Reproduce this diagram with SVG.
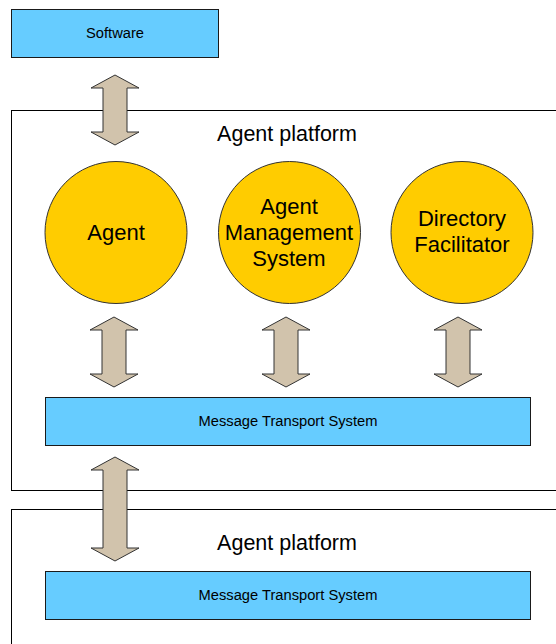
<svg xmlns="http://www.w3.org/2000/svg" width="556" height="644" viewBox="0 0 556 644">
  <style>
    .platform { fill: #ffffff; stroke: #000000; stroke-width: 1; }
    .box { fill: #66CCFF; stroke: #1a1a1a; stroke-width: 1; }
    .agent { fill: #FFCC00; stroke: #333333; stroke-width: 1; }
    .arrow { fill: #D1C3AC; stroke: #333333; stroke-width: 1; stroke-linejoin: miter; }
    .t { font-family: "Liberation Sans", Arial, sans-serif; fill: #000000; text-anchor: middle; }
    .small { font-size: 14.7px; }
    .title { font-size: 21.5px; }
    .big { font-size: 22px; }
  </style>

  <!-- platform containers -->
  <g id="platform-top">
    <rect class="platform" x="11.5" y="110.5" width="600" height="380"/>
    <text class="t title" x="287" y="141">Agent platform</text>
  </g>
  <g id="platform-bottom">
    <rect class="platform" x="11.5" y="509.5" width="600" height="200"/>
    <text class="t title" x="287" y="550">Agent platform</text>
  </g>

  <!-- components -->
  <g id="software">
    <rect class="box" x="11.5" y="9.5" width="207" height="48"/>
    <text class="t small" x="115" y="38">Software</text>
  </g>
  <g id="agent">
    <circle class="agent" cx="116" cy="232.5" r="71"/>
    <text class="t big" x="116" y="240">Agent</text>
  </g>
  <g id="ams">
    <circle class="agent" cx="289.5" cy="232.5" r="71"/>
    <text class="t big" x="289" y="214">Agent</text>
    <text class="t big" x="289" y="240">Management</text>
    <text class="t big" x="289" y="266">System</text>
  </g>
  <g id="df">
    <circle class="agent" cx="462" cy="232.5" r="71"/>
    <text class="t big" x="462" y="226">Directory</text>
    <text class="t big" x="462" y="252">Facilitator</text>
  </g>
  <g id="mts-top">
    <rect class="box" x="45.5" y="397.5" width="485" height="48"/>
    <text class="t small" x="288" y="426">Message Transport System</text>
  </g>
  <g id="mts-bottom">
    <rect class="box" x="45.5" y="571.5" width="485" height="48"/>
    <text class="t small" x="288" y="600">Message Transport System</text>
  </g>

  <!-- connectors: double-headed block arrows -->
  <g id="connectors">
    <polygon class="arrow" points="115,75 139,88 127,88 127,132 139,132 115,145 91,132 103,132 103,88 91,88"/>
    <polygon class="arrow" points="114,317 138,330 126,330 126,374 138,374 114,387 90,374 102,374 102,330 90,330"/>
    <polygon class="arrow" points="286,317 310,330 298,330 298,374 310,374 286,387 262,374 274,374 274,330 262,330"/>
    <polygon class="arrow" points="458,317 482,330 470,330 470,374 482,374 458,387 434,374 446,374 446,330 434,330"/>
    <polygon class="arrow" points="115,457 139,470 127,470 127,548 139,548 115,561 91,548 103,548 103,470 91,470"/>
  </g>
</svg>
